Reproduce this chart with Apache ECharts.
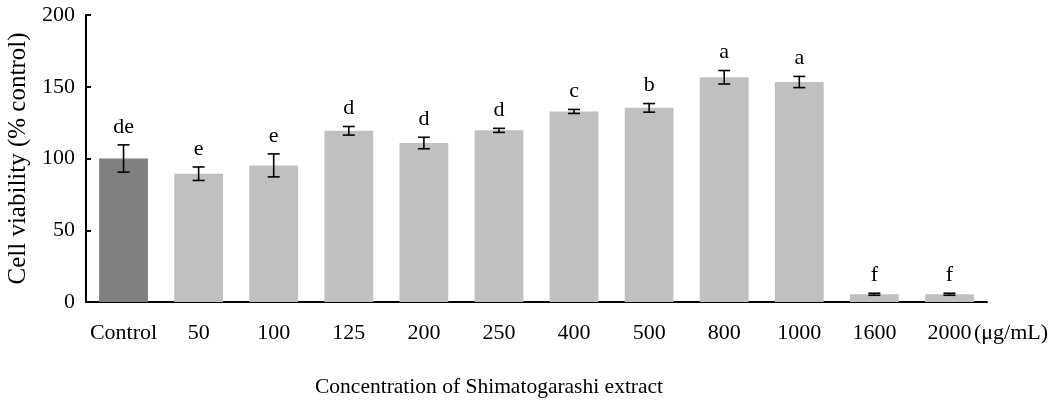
<!DOCTYPE html>
<html>
<head>
<meta charset="utf-8">
<script src="https://cdn.jsdelivr.net/npm/echarts@6/dist/echarts.min.js"></script>
<style>
  html, body { margin: 0; padding: 0; background: #fff; }
  #chart { width: 1056px; height: 408px; }
</style>
</head>
<body>
<div id="chart"></div>
<script>
// Cell viability after treatment with increasing extract concentrations
const categories = ['Control', '50', '100', '125', '200', '250', '400', '500', '800', '1000', '1600', '2000'];
const viability = [100, 89.4, 95.2, 119.3, 110.8, 119.6, 132.8, 135.3, 156.6, 153.3, 5.4, 5.4];
const stdDev = [9.5, 4.7, 8.0, 3.0, 4.0, 1.4, 1.4, 3.0, 4.7, 3.9, 0.7, 0.7];
const letters = ['de', 'e', 'e', 'd', 'd', 'd', 'c', 'b', 'a', 'a', 'f', 'f'];
const yTicks = { min: 0, max: 200, interval: 50 };

const FONT = '"Liberation Serif", "Times New Roman", serif';

const chart = echarts.init(document.getElementById('chart'), null, { renderer: 'canvas' });

const barData = viability.map((v, i) => ({
  value: v,
  itemStyle: { color: i === 0 ? '#808080' : '#c0c0c0' }
}));

const errData = viability.map((v, i) => [i, v + stdDev[i], v - stdDev[i]]);

chart.setOption({
  animation: false,
  backgroundColor: '#fff',
  grid: { left: 86, right: 69, top: 15, bottom: 106, containLabel: false, outerBoundsMode: 'none' },
  xAxis: {
    type: 'category',
    data: categories,
    boundaryGap: true,
    axisLine: { lineStyle: { color: '#000', width: 2 } },
    axisTick: { inside: true, length: 5, lineStyle: { color: '#000', width: 2 } },
    axisLabel: { interval: 0, color: '#000', fontFamily: FONT, fontSize: 22, margin: 20 }
  },
  yAxis: {
    type: 'value',
    min: yTicks.min,
    max: yTicks.max,
    interval: yTicks.interval,
    name: 'Cell viability (% control)',
    nameLocation: 'middle',
    nameGap: 54,
    nameTextStyle: { color: '#000', fontFamily: FONT, fontSize: 25 },
    splitLine: { show: false },
    axisLine: { show: true, lineStyle: { color: '#000', width: 2 } },
    axisTick: { show: true, inside: true, length: 5, lineStyle: { color: '#000', width: 2 } },
    axisLabel: { color: '#000', fontFamily: FONT, fontSize: 22, margin: 11 }
  },
  graphic: [
    {
      type: 'text', left: 974, top: 322,
      style: { text: '(μg/mL)', font: '22px ' + FONT, fill: '#000' }
    },
    {
      type: 'text', left: 315, top: 376,
      style: { text: 'Concentration of Shimatogarashi extract', font: '21.5px ' + FONT, fill: '#000' }
    }
  ],
  series: [
    {
      type: 'bar',
      data: barData,
      barWidth: '65%'
    },
    {
      type: 'custom',
      data: errData,
      z: 5,
      renderItem(params, api) {
        const i = api.value(0);
        const hi = api.coord([i, api.value(1)]);
        const lo = api.coord([i, api.value(2)]);
        const cap = 6;
        const s = { stroke: '#000', lineWidth: 1.6 };
        return {
          type: 'group',
          children: [
            { type: 'line', shape: { x1: hi[0], y1: hi[1], x2: lo[0], y2: lo[1] }, style: s },
            { type: 'line', shape: { x1: hi[0] - cap, y1: hi[1], x2: hi[0] + cap, y2: hi[1] }, style: s },
            { type: 'line', shape: { x1: lo[0] - cap, y1: lo[1], x2: lo[0] + cap, y2: lo[1] }, style: s },
            {
              type: 'text', x: hi[0], y: hi[1] - 7,
              style: { text: letters[i], font: '22px ' + FONT, fill: '#000', align: 'center', verticalAlign: 'bottom' }
            }
          ]
        };
      }
    }
  ]
});
</script>
</body>
</html>
